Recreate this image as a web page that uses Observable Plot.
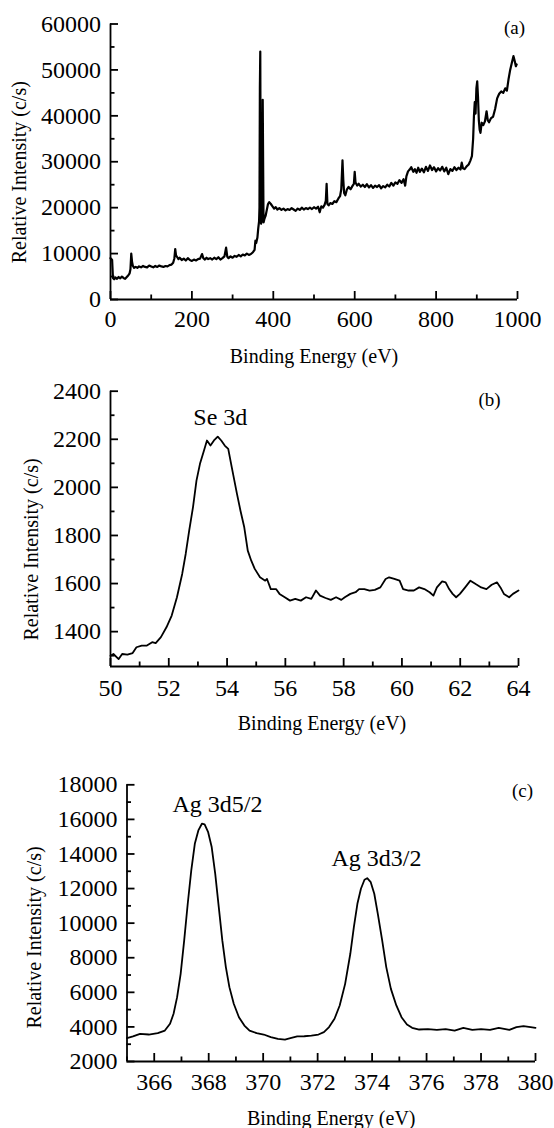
<!DOCTYPE html>
<html>
<head>
<meta charset="utf-8">
<script src="https://cdn.jsdelivr.net/npm/d3@7"></script>
<script src="https://cdn.jsdelivr.net/npm/@observablehq/plot@0.6"></script>
<style>
  body { margin: 0; background: #fff; font-family: 'Liberation Serif', serif; }
  #chart svg { display: block; }
  #chart svg text { font-family: 'Liberation Serif', serif !important; }
</style>
</head>
<body>
<div id="chart"></div>
<script>
// ---------- Panel (a): survey spectrum ----------
const surveyEnergy = [
  0,2,4,6,9,12,16,20,24,28,32,36,40,44,47,49,51,53,55,58,62,66,70,75,80,85,90,95,100,105,110,115,120,125,130,135,140,145,150,
  154,157,159,161,164,167,170,175,180,185,190,195,200,205,210,215,220,225,228,232,236,240,245,250,255,260,265,270,275,280,284,287,290,295,300,
  305,310,315,320,325,330,335,340,345,350,354,356,358,361,363,365,366,367,368,369,370,371,372,373,374,375,376,378,381,384,387,390,394,398,
  402,406,410,415,420,425,430,435,440,445,450,455,460,465,470,475,480,485,490,495,500,505,510,514,518,522,526,529,531,533,536,540,545,550,555,
  560,564,567,570,572,574,577,581,585,590,595,598,600,602,606,610,615,620,625,630,635,640,645,650,655,660,665,670,675,680,685,690,695,700,
  705,710,715,720,724,727,731,735,739,744,748,752,756,760,765,770,775,780,785,790,795,800,805,810,815,820,825,830,835,840,845,850,855,860,
  863,866,870,875,880,884,888,891,893,895,897,899,901,903,905,907,909,912,916,920,924,927,930,935,940,945,950,955,960,965,970,974,978,982,
  986,990,993,996,998
];
const surveyIntensity = [
  9000,8800,8600,4700,4400,4800,4500,4900,4600,5000,4700,4500,4900,5300,5700,6600,10000,8200,7300,6900,7100,6900,7200,7000,7300,7100,7000,7400,7200,7000,7300,7100,7400,7200,7100,7300,7200,7500,7600,
  8000,9000,11000,9600,9200,8800,9100,8600,8900,8500,9000,8600,8400,8700,8500,8800,8900,9900,9000,8700,9100,8800,9000,8700,9100,8800,9200,8700,9000,9400,11300,9300,9000,9400,9100,
  9500,9300,9700,9400,9800,9600,10000,9700,9900,10300,10800,12800,12300,13500,15500,17000,20000,46000,54000,22000,16500,17000,18500,24000,43500,30000,16800,17500,18200,19500,20800,21200,20800,20300,
  19800,20100,19600,19900,19500,19800,19400,19700,19500,19900,19600,19300,19800,19500,20000,19600,19900,19700,20000,19700,20100,19800,20200,19000,20300,20000,20600,21500,25200,20800,20500,21000,20800,21400,21200,
  22000,22500,24000,30300,26000,23200,22700,24000,24500,24000,24800,25200,27800,25500,24800,25200,24600,25000,24500,25100,24400,24900,24300,24800,24500,24900,24200,24700,24400,25000,24600,25400,24800,25500,
  25200,26000,25400,26200,24800,26800,27900,28300,28800,27800,28400,27600,28700,27800,28500,27700,28900,28000,29200,28200,28800,27900,28600,28100,28900,27900,28700,27300,28400,28000,28800,28200,28700,28300,
  29800,28600,28400,29000,29400,30200,31200,35000,40000,43000,40500,46000,47500,44000,39000,37000,36300,38500,38000,38800,41000,39000,38600,39500,39800,41500,43800,44800,45300,45000,46000,45500,48000,50000,
  51500,53000,52000,50800,51200
];
const surveyXMajor = [0, 200, 400, 600, 800, 1000];
const surveyXMinor = [100, 300, 500, 700, 900];
const surveyYMajor = [0, 10000, 20000, 30000, 40000, 50000, 60000];
const surveyYMinor = [5000, 15000, 25000, 35000, 45000, 55000];

// ---------- Panel (b): Se 3d ----------
const seEnergy = [
  50.0,50.1,50.28,50.4,50.58,50.76,50.89,51.07,51.25,51.43,51.55,51.73,51.92,52.1,52.28,52.46,52.58,52.7,52.83,52.95,
  53.07,53.19,53.31,53.43,53.55,53.68,53.8,53.92,54.04,54.16,54.34,54.46,54.59,54.71,54.83,54.95,55.13,55.31,55.37,55.5,
  55.68,55.8,55.98,56.16,56.34,56.53,56.71,56.89,57.05,57.19,57.38,57.56,57.74,57.92,58.04,58.23,58.41,58.53,58.71,58.89,
  59.07,59.26,59.44,59.56,59.74,59.92,60.04,60.23,60.41,60.59,60.77,60.95,61.08,61.2,61.38,61.5,61.62,61.74,61.86,61.99,
  62.17,62.35,62.53,62.72,62.9,63.08,63.26,63.38,63.5,63.68,63.81,64.0
];
const seIntensity = [
  1300,1307,1286,1307,1304,1311,1335,1342,1342,1356,1352,1377,1418,1467,1543,1640,1723,1820,1917,2028,
  2098,2146,2195,2174,2195,2211,2195,2174,2160,2084,1973,1903,1834,1737,1695,1661,1626,1612,1619,1577,
  1577,1557,1543,1529,1536,1529,1543,1536,1571,1550,1540,1532,1543,1532,1543,1557,1564,1577,1577,1571,
  1574,1584,1619,1626,1619,1612,1577,1571,1571,1584,1577,1564,1550,1584,1609,1605,1577,1557,1543,1557,
  1584,1612,1598,1584,1577,1595,1605,1584,1557,1543,1557,1571
];
const seXMajor = [50, 52, 54, 56, 58, 60, 62, 64];
const seXMinor = [51, 53, 55, 57, 59, 61, 63];
const seYMajor = [1400, 1600, 1800, 2000, 2200, 2400];
const seYMinor = [1300, 1500, 1700, 1900, 2100, 2300];

// ---------- Panel (c): Ag 3d ----------
const agEnergy = [
  365.0,365.22,365.48,365.8,366.13,366.39,366.58,366.71,366.84,366.97,367.1,367.23,367.36,367.49,367.62,367.75,367.85,367.98,
  368.11,368.24,368.37,368.5,368.63,368.76,368.92,369.11,369.31,369.5,369.76,370.02,370.28,370.54,370.8,371.0,371.25,371.51,
  371.77,372.03,372.23,372.42,372.62,372.81,373.01,373.2,373.33,373.46,373.59,373.72,373.82,373.95,374.08,374.21,374.37,374.52,
  374.69,374.89,375.08,375.28,375.47,375.73,376.05,376.38,376.7,377.03,377.35,377.68,378.0,378.33,378.65,379.04,379.3,379.56,
  379.82,380.0
];
const agIntensity = [
  3350,3450,3600,3560,3640,3790,4180,4760,5720,7070,9000,11120,13050,14590,15360,15750,15710,15260,
  14400,12850,10930,9000,7460,6300,5340,4560,4080,3790,3640,3560,3410,3310,3270,3350,3450,3460,
  3500,3560,3700,3990,4470,5240,6490,8230,9770,11120,11990,12510,12600,12370,11700,10540,9000,7460,
  6200,5240,4560,4140,3950,3850,3870,3830,3870,3790,3950,3830,3870,3830,3950,3830,3990,4050,
  3990,3950
];
const agXMajor = [366, 368, 370, 372, 374, 376, 378, 380];
const agXMinor = [365, 367, 369, 371, 373, 375, 377, 379];
const agYMajor = [2000, 4000, 6000, 8000, 10000, 12000, 14000, 16000, 18000];
const agYMinor = [3000, 5000, 7000, 9000, 11000, 13000, 15000, 17000];

// ---------- Labels ----------
const xTitle = "Binding Energy (eV)";
const yTitle = "Relative Intensity (c/s)";
const panelTags = ["(a)", "(b)", "(c)"];
const seNotes = [{x: 53.77, y: 2290, text: "Se 3d"}];
const agNotes = [
  {x: 368.32, y: 16890, text: "Ag 3d5/2"},
  {x: 374.16, y: 13738, text: "Ag 3d3/2"}
];

const W = 554;
const FONT = "Liberation Serif";

function panel(c) {
  const ph = c.height - c.mt - c.mb;
  const pw = W - c.ml - c.mr;
  const fmt = d => String(d);
  const svg = Plot.plot({
    width: W,
    height: c.height,
    marginTop: c.mt,
    marginBottom: c.mb,
    marginLeft: c.ml,
    marginRight: c.mr,
    x: {domain: c.xDomain, axis: null},
    y: {domain: c.yDomain, axis: null},
    marks: [
      Plot.line(c.E, {x: c.E, y: c.I, stroke: "black", strokeWidth: c.sw, strokeLinejoin: "round"}),
      Plot.ruleX([c.xDomain[0]], {stroke: "black", strokeWidth: 1.8}),
      Plot.ruleY([c.yDomain[0]], {stroke: "black", strokeWidth: 1.8}),
      Plot.tickX(c.xMajor, {x: d => d, insetTop: ph - 8, stroke: "black", strokeWidth: 1.8}),
      Plot.tickX(c.xMinor, {x: d => d, insetTop: ph - 4.5, stroke: "black", strokeWidth: 1.8}),
      Plot.tickY(c.yMajor, {y: d => d, insetRight: pw - 8, stroke: "black", strokeWidth: 1.8}),
      Plot.tickY(c.yMinor, {y: d => d, insetRight: pw - 4.5, stroke: "black", strokeWidth: 1.8}),
      Plot.axisX(c.xMajor, {tickSize: 0, tickPadding: c.xPad, fontSize: 24, fontFamily: FONT, tickFormat: fmt, label: null, fill: "black"}),
      Plot.axisY(c.yMajor, {tickSize: 0, tickPadding: 9.5, fontSize: 24, fontFamily: FONT, tickFormat: fmt, label: null, fill: "black"}),
      Plot.text([xTitle], {frameAnchor: "bottom", dy: 57.5, dx: c.xtDx, fontSize: 20, fontFamily: FONT, textAnchor: "middle", lineAnchor: "middle", fill: "black"}),
      Plot.text([yTitle], {frameAnchor: "left", rotate: -90, dx: c.ytDx, dy: c.ytDy, fontSize: 20, fontFamily: FONT, textAnchor: "middle", lineAnchor: "middle", fill: "black"}),
      Plot.text([c.tag], {frameAnchor: "top-right", dx: c.tagDx, dy: c.tagDy, fontSize: 19, fontFamily: FONT, textAnchor: "middle", lineAnchor: "middle", fill: "black"}),
      Plot.text(c.notes, {x: "x", y: "y", text: "text", fontSize: 24, fontFamily: FONT, textAnchor: "middle", lineAnchor: "middle", fill: "black"})
    ]
  });
  svg.setAttribute("font-family", FONT);
  svg.style.background = "white";
  svg.style.overflow = "visible";
  return svg;
}

const chart = document.getElementById("chart");

chart.append(panel({
  E: surveyEnergy, I: surveyIntensity, sw: 2.2,
  xDomain: [0, 1000], yDomain: [0, 60000],
  xMajor: surveyXMajor, xMinor: surveyXMinor, yMajor: surveyYMajor, yMinor: surveyYMinor,
  height: 365, mt: 23.5, mb: 66, ml: 110, mr: 37,
  xPad: 10.5, xtDx: 0, ytDx: -90.5, ytDy: 10.5,
  tag: panelTags[0], tagDx: -3, tagDy: 3.5, notes: []
}));

chart.append(panel({
  E: seEnergy, I: seIntensity, sw: 1.8,
  xDomain: [50, 64], yDomain: [1255, 2400],
  xMajor: seXMajor, xMinor: seXMinor, yMajor: seYMajor, yMinor: seYMinor,
  height: 375, mt: 25.7, mb: 74, ml: 110, mr: 36,
  xPad: 12.6, xtDx: 7.5, ytDx: -79, ytDy: 20.6,
  tag: panelTags[1], tagDx: -29, tagDy: 8.3, notes: seNotes
}));

chart.append(panel({
  E: agEnergy, I: agIntensity, sw: 1.8,
  xDomain: [365, 380], yDomain: [2000, 18000],
  xMajor: agXMajor, xMinor: agXMinor, yMajor: agYMajor, yMinor: agYMinor,
  height: 388, mt: 44.3, mb: 67, ml: 126.5, mr: 19,
  xPad: 11, xtDx: 0, ytDx: -92, ytDy: 14.3,
  tag: panelTags[2], tagDx: -13, tagDy: 5.7, notes: agNotes
}));
</script>
</body>
</html>
